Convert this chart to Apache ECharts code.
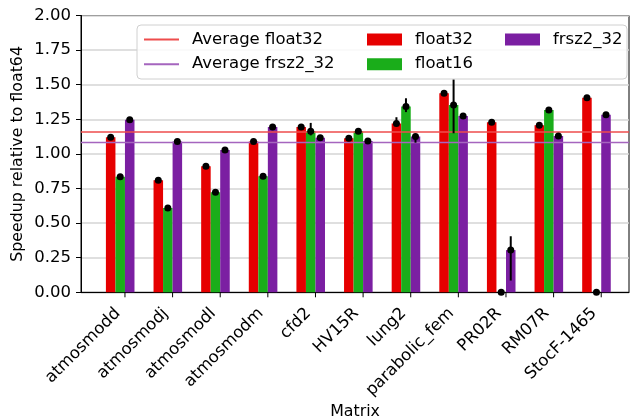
<!DOCTYPE html>
<html><head><meta charset="utf-8">
<script src="https://cdn.jsdelivr.net/npm/echarts@6/dist/echarts.min.js"></script>
<style>html,body{margin:0;padding:0;background:#fff}#c{width:634px;height:419px}</style>
</head><body><div id="c"></div>
<script>
const categories = ['atmosmodd','atmosmodj','atmosmodl','atmosmodm','cfd2','HV15R','lung2','parabolic_fem','PR02R','RM07R','StocF-1465'];
const float32 = [1.12, 0.81, 0.91, 1.09, 1.195, 1.113, 1.22, 1.438, 1.229, 1.207, 1.405];
const float16 = [0.834, 0.61, 0.723, 0.839, 1.164, 1.164, 1.342, 1.353, 0, 1.318, 0];
const frsz2_32 = [1.246, 1.089, 1.029, 1.195, 1.116, 1.094, 1.126, 1.273, 0.305, 1.130, 1.282];
// error bar extents (above / below the mean)
const float32ErrUp = [0.005, 0.005, 0.005, 0.005, 0.005, 0.005, 0.045, 0.005, 0.005, 0.005, 0.005];
const float32ErrDown = [0.005, 0.005, 0.005, 0.005, 0.005, 0.005, 0.02, 0.005, 0.005, 0.005, 0.005];
const float16ErrUp = [0.005, 0.005, 0.005, 0.005, 0.06, 0.005, 0.06, 0.186, 0, 0.005, 0];
const float16ErrDown = [0.005, 0.005, 0.005, 0.005, 0.03, 0.005, 0.04, 0.204, 0, 0.005, 0];
const frszErrUp = [0.005, 0.005, 0.005, 0.005, 0.005, 0.005, 0.01, 0.005, 0.10, 0.005, 0.005];
const frszErrDown = [0.005, 0.005, 0.005, 0.005, 0.005, 0.015, 0.045, 0.005, 0.22, 0.005, 0.005];
const avgFloat32 = 1.159;
const avgFrsz2_32 = 1.082;

const XMIN = -0.923, XMAX = 10.583;
const BAR_W = 0.2;
const offsets = [-0.3, -0.1, 0.1];
const colors = ['#e60000', '#1aad1a', '#7b1fa2'];
const lineColors = ['#ee4d4d', '#a565be'];
const FONT = 'DejaVu Sans';
const FS = 16.5;
const FS_TITLE = 15.8;
const tickIdx = categories.map((c, i) => i);

function barSeries(name, vals, k) {
  return {
    name: name, type: 'custom', z: 2,
    itemStyle: {color: colors[k]},
    data: vals.map((v, i) => [i + offsets[k], v]),
    renderItem: function (params, api) {
      const x = api.value(0), y = api.value(1);
      const p0 = api.coord([x - BAR_W / 2, y]);
      const p1 = api.coord([x + BAR_W / 2, 0]);
      return {type: 'rect', shape: {x: p0[0], y: p0[1], width: p1[0] - p0[0], height: p1[1] - p0[1]},
        style: {fill: api.visual('color')}};
    }
  };
}
function errSeries(vals, up, down, k) {
  return {
    type: 'custom', z: 5, silent: true,
    encode: {x: 0, y: [1, 2]},
    data: vals.map((v, i) => [i + offsets[k], v - down[i], v + up[i]]),
    renderItem: function (params, api) {
      const x = api.value(0);
      const a = api.coord([x, api.value(1)]);
      const b = api.coord([x, api.value(2)]);
      return {type: 'line', shape: {x1: a[0], y1: a[1], x2: b[0], y2: b[1]},
        style: {stroke: '#000', lineWidth: 2}};
    }
  };
}
function dotSeries(vals, k) {
  return {type: 'scatter', z: 6, silent: true, symbol: 'circle', symbolSize: 7,
    itemStyle: {color: '#000', opacity: 1},
    data: vals.map((v, i) => [i + offsets[k], v])};
}
function avgSeries(name, v, k) {
  return {name: name, type: 'line', z: 4, symbol: 'none', silent: true,
    lineStyle: {color: lineColors[k], width: 1.5}, itemStyle: {color: lineColors[k]},
    data: [[XMIN, v], [XMAX, v]]};
}
// x-axis tick marks at each category position
const tickSeries = {
  type: 'custom', z: 6, silent: true, clip: false,
  data: tickIdx.map(i => [i, 0]),
  renderItem: function (params, api) {
    const p = api.coord([api.value(0), 0]);
    return {type: 'line', shape: {x1: p[0], y1: p[1], x2: p[0], y2: p[1] + 5},
      style: {stroke: '#000', lineWidth: 1}};
  }
};

const legendCommon = {
  orient: 'vertical', itemWidth: 35, itemHeight: 12, itemGap: 7.7, z: 10, padding: 0,
  textStyle: {fontFamily: FONT, fontSize: FS, color: '#000', lineHeight: 16, padding: [0, 0, 0, 8]},
  selectedMode: false
};
const hiddenSymbol = {opacity: 0};

const chart = echarts.init(document.getElementById('c'), null, {renderer: 'canvas'});
chart.setOption({
  animation: false,
  backgroundColor: '#fff',
  grid: {left: 81, right: 5, top: 15.5, bottom: 126.7, outerBoundsMode: 'none', containLabel: false,
    show: true, borderColor: '#000', borderWidth: 1, backgroundColor: 'transparent'},
  xAxis: {
    type: 'value', min: XMIN, max: XMAX,
    name: 'Matrix', nameLocation: 'middle', nameGap: 112, nameMoveOverlap: false,
    nameTextStyle: {fontFamily: FONT, fontSize: FS_TITLE, color: '#000'},
    axisLine: {show: true, onZero: false, lineStyle: {color: '#000', width: 1}},
    axisTick: {show: false},
    axisLabel: {customValues: tickIdx, formatter: v => categories[Math.round(v)], rotate: 45,
      fontFamily: FONT, fontSize: FS, color: '#000', margin: 11.5, padding: [0, 10, 0, 0]},
    splitLine: {show: false}
  },
  yAxis: {
    type: 'value', min: 0, max: 2, interval: 0.25,
    name: 'Speedup relative to float64', nameLocation: 'middle', nameGap: 55, nameMoveOverlap: false,
    nameTextStyle: {fontFamily: FONT, fontSize: FS_TITLE, color: '#000'},
    axisLine: {show: true, onZero: false, lineStyle: {color: '#000', width: 1}},
    axisTick: {show: true, length: 5, lineStyle: {color: '#000', width: 1}},
    axisLabel: {formatter: v => v.toFixed(2), fontFamily: FONT, fontSize: FS, color: '#000', margin: 10},
    splitLine: {show: true, lineStyle: {color: '#d4d4d4', width: 1.5}}
  },
  graphic: [{type: 'rect', z: 8, shape: {x: 137, y: 25, width: 490, height: 54, r: 4},
    style: {fill: 'rgba(255,255,255,0.85)', stroke: '#d0d0d0', lineWidth: 1}}],
  legend: [
    Object.assign({left: 143, top: 31, data: [
      {name: 'Average float32', itemStyle: hiddenSymbol},
      {name: 'Average frsz2_32', itemStyle: hiddenSymbol}]}, legendCommon),
    Object.assign({left: 367, top: 31, data: [{name: 'float32', icon: 'rect'}, {name: 'float16', icon: 'rect'}]}, legendCommon),
    Object.assign({left: 505, top: 31, data: [{name: 'frsz2_32', icon: 'rect'}]}, legendCommon)
  ],
  series: [
    barSeries('float32', float32, 0),
    barSeries('float16', float16, 1),
    barSeries('frsz2_32', frsz2_32, 2),
    avgSeries('Average float32', avgFloat32, 0),
    avgSeries('Average frsz2_32', avgFrsz2_32, 1),
    errSeries(float32, float32ErrUp, float32ErrDown, 0),
    errSeries(float16, float16ErrUp, float16ErrDown, 1),
    errSeries(frsz2_32, frszErrUp, frszErrDown, 2),
    dotSeries(float32, 0),
    dotSeries(float16, 1),
    dotSeries(frsz2_32, 2),
    tickSeries
  ]
});
</script></body></html>
